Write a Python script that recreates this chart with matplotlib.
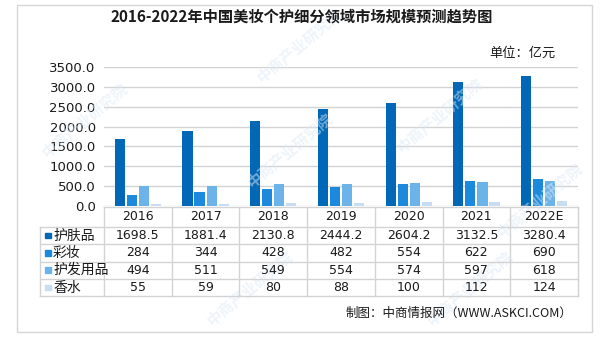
import matplotlib
matplotlib.use("Agg")
import matplotlib.pyplot as plt
from matplotlib.patches import Rectangle
from matplotlib.lines import Line2D

plt.rcParams['font.family'] = ['Noto Sans CJK SC', 'DejaVu Sans']

# ---- data ----
years = ["2016", "2017", "2018", "2019", "2020", "2021", "2022E"]
series_names = ["护肤品", "彩妆", "护发用品", "香水"]
skincare = [1698.5, 1881.4, 2130.8, 2444.2, 2604.2, 3132.5, 3280.4]
makeup = [284, 344, 428, 482, 554, 622, 690]
haircare = [494, 511, 549, 554, 574, 597, 618]
perfume = [55, 59, 80, 88, 100, 112, 124]
series_labels = [
    ["1698.5", "1881.4", "2130.8", "2444.2", "2604.2", "3132.5", "3280.4"],
    ["284", "344", "428", "482", "554", "622", "690"],
    ["494", "511", "549", "554", "574", "597", "618"],
    ["55", "59", "80", "88", "100", "112", "124"],
]
yticks = [0, 500, 1000, 1500, 2000, 2500, 3000, 3500]

colors = ["#0068B7", "#1C89DD", "#6BB3E8", "#C9DDF2"]
grid_c = "#D3D3D3"

W, H = 601, 338
fig = plt.figure(figsize=(W / 100, H / 100), dpi=100)


def fx(px):
    return px / W


def fy(py):
    return 1 - py / H


# outer frame
fig.add_artist(Rectangle((fx(17), fy(332)), fx(592) - fx(17), fy(5) - fy(332),
                         transform=fig.transFigure, fill=False,
                         edgecolor="#D6D6D6", linewidth=1.0))

# faint watermarks
for (wx, wy) in [(85, 120), (290, 150), (440, 115), (250, 288), (470, 288),
                 (540, 200), (300, 45)]:
    fig.text(fx(wx), fy(wy), "中商产业研究院", rotation=40, fontsize=11,
             color="#DCE9F5", alpha=0.5, ha="center", va="center", zorder=0,
             fontweight="bold")

# title and unit
fig.text(fx(302), fy(17), "2016-2022年中国美妆个护细分领域市场规模预测趋势图",
         ha="center", va="center", fontsize=11, fontweight="bold", color="#1A1A1A")
fig.text(fx(556), fy(53), "单位：亿元", ha="right", va="center", fontsize=9.5,
         color="#1A1A1A")

# plot area
x0, x1 = 104, 578
ax = fig.add_axes([fx(x0), fy(206), fx(x1) - fx(x0), fy(67) - fy(206)])
ax.set_xlim(-0.5, len(years) - 0.5)
ax.set_ylim(0, 3500)
ax.set_yticks(yticks)
ax.set_yticklabels([f"{v:.1f}" for v in yticks], fontsize=9.5, color="#1A1A1A",
                   family=['DejaVu Sans'])
ax.tick_params(axis="y", length=0, pad=6)
ax.set_xticks([])
for s in ax.spines.values():
    s.set_visible(False)
ax.yaxis.grid(True, color=grid_c, linewidth=1.0)
ax.set_axisbelow(True)
ax.patch.set_alpha(0)

bw = 0.15
step = 0.178
values = [skincare, makeup, haircare, perfume]
for i, (vals, c) in enumerate(zip(values, colors)):
    offs = (i - 1.5) * step
    ax.bar([k + offs for k in range(len(years))], vals, width=bw, color=c,
           zorder=3)

# data table under the plot
col_w = (x1 - x0) / len(years)
row_y = [207, 227, 244.3, 261.6, 278.9, 296.2]
tbl_left = 40


def hline(xa, xb, y):
    fig.add_artist(Line2D([fx(xa), fx(xb)], [fy(y), fy(y)], transform=fig.transFigure,
                          color=grid_c, linewidth=1.0))


def vline(x, ya, yb):
    fig.add_artist(Line2D([fx(x), fx(x)], [fy(ya), fy(yb)], transform=fig.transFigure,
                          color=grid_c, linewidth=1.0))


hline(x0, x1, row_y[0])
for y in row_y[1:]:
    hline(tbl_left, x1, y)
for k in range(len(years) + 1):
    vline(x0 + k * col_w, row_y[0], row_y[-1])
vline(tbl_left, row_y[1], row_y[-1])

for k, yr in enumerate(years):
    fig.text(fx(x0 + (k + 0.5) * col_w), fy((row_y[0] + row_y[1]) / 2), yr,
             ha="center", va="center", fontsize=9, color="#1A1A1A",
             family=['DejaVu Sans'])

for r, (name, labels, c) in enumerate(zip(series_names, series_labels, colors)):
    yc = (row_y[r + 1] + row_y[r + 2]) / 2
    fig.add_artist(Rectangle((fx(45), fy(yc + 2.6)), fx(5.5), fy(0) - fy(5.5),
                             transform=fig.transFigure, color=c))
    fig.text(fx(53), fy(yc), name, ha="left", va="center", fontsize=10,
             color="#1A1A1A")
    for k, lab in enumerate(labels):
        fig.text(fx(x0 + (k + 0.5) * col_w), fy(yc), lab, ha="center", va="center",
                 fontsize=9, color="#1A1A1A", family=['DejaVu Sans'])

# source note
fig.text(fx(572), fy(313), "制图：中商情报网（WWW.ASKCI.COM）", ha="right",
         va="center", fontsize=9, color="#1A1A1A")

fig.savefig("out.png", dpi=100)
